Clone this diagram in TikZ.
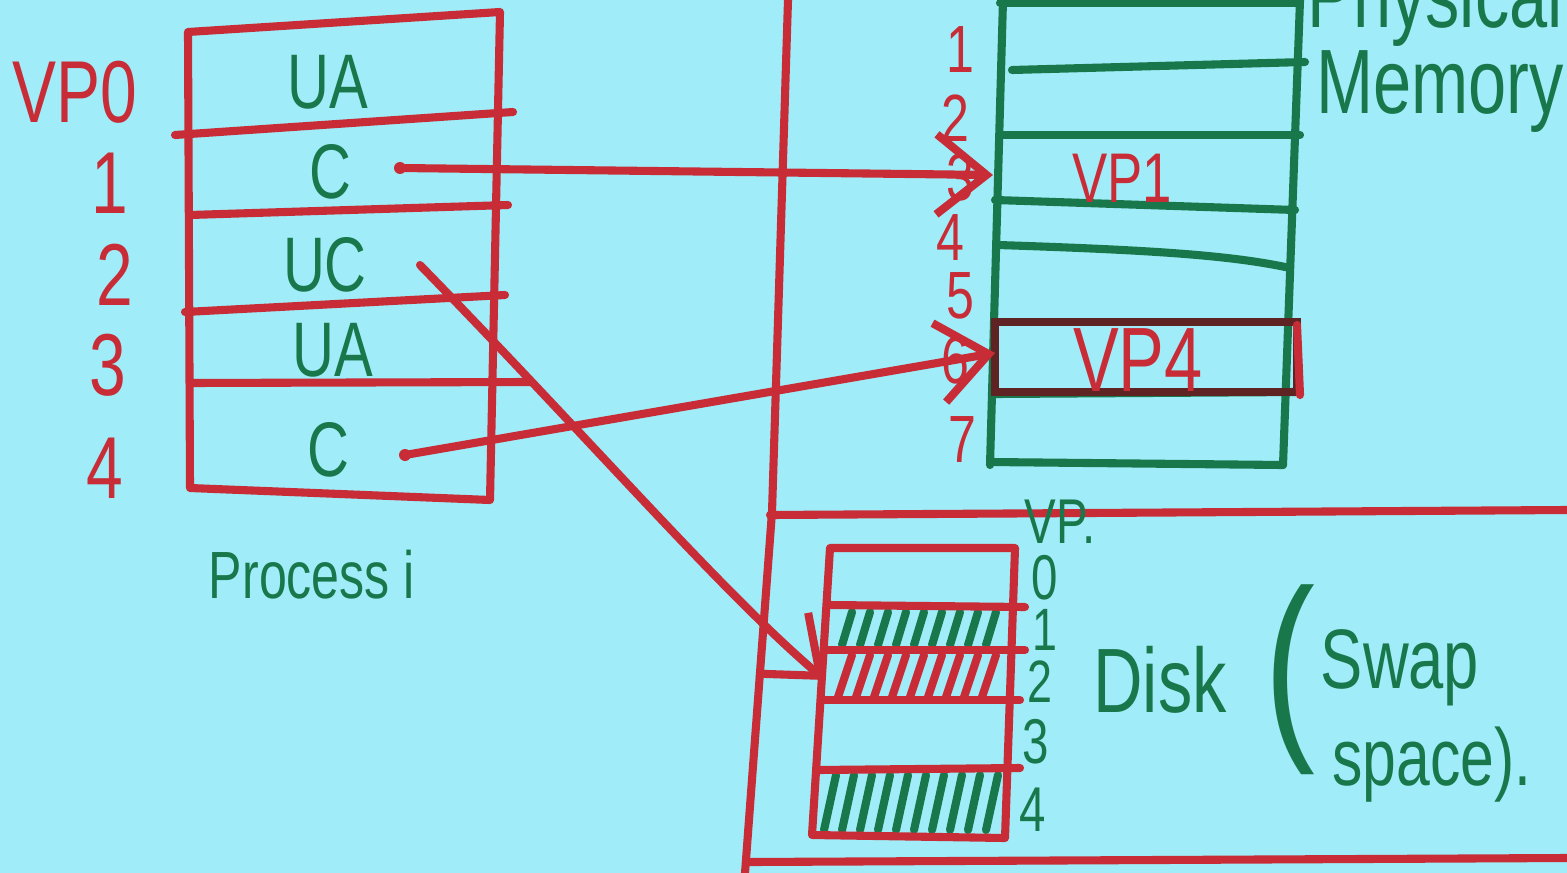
\documentclass[tikz,border=0pt]{standalone}
\usepackage{fontspec}
\setmainfont[FakeStretch=0.75]{Liberation Sans}
\usetikzlibrary{arrows.meta}
\definecolor{paper}{RGB}{160,236,248}
\definecolor{penred}{RGB}{200,45,55}
\definecolor{pengreen}{RGB}{25,120,75}
\definecolor{pendark}{RGB}{95,35,35}
\begin{document}
\begin{tikzpicture}[x=0.01cm, y=-0.01cm,
		every node/.style={inner sep=1pt},
		redpen/.style={draw=penred, line width=2.3pt, line cap=round, line join=round},
		greenpen/.style={draw=pengreen, line width=2.3pt, line cap=round, line join=round},
		redtxt/.style={text=penred, font=\fontsize{22}{24}\selectfont},
		greentxt/.style={text=pengreen, font=\fontsize{22}{24}\selectfont},
		framenum/.style={redtxt, font=\fontsize{19}{20}\selectfont},
		pageref/.style={redpen, -{Straight Barb[length=5mm, width=8mm, line width=2.3pt]}}]
	\fill[paper] (0,0) rectangle (1567,873);
	\clip (0,0) rectangle (1567,873);
	% process i
	\node[redtxt, font=\fontsize{25}{26}\selectfont] (vp0) at (75,92) {VP0};
	\node[redtxt, font=\fontsize{25}{26}\selectfont] (vp1) at (110,183) {1};
	\node[redtxt, font=\fontsize{25}{26}\selectfont] (vp2) at (115,275) {2};
	\node[redtxt, font=\fontsize{25}{26}\selectfont] (vp3) at (108,365) {3};
	\node[redtxt, font=\fontsize{25}{26}\selectfont] (vp4) at (105,468) {4};
	\node[greentxt] (p0) at (328,82) {UA};
	\node[greentxt] (p1) at (330,172) {C};
	\node[greentxt] (p2) at (325,265) {UC};
	\node[greentxt] (p3) at (333,350) {UA};
	\node[greentxt] (p4) at (328,450) {C};
	\node[greentxt, font=\fontsize{19}{20}\selectfont] (proc) at (312,575) {Process i};
	\draw[redpen] (188,32) -- (500,12) -- (490,500) -- (190,488) -- cycle;
	\draw[redpen] (175,135) -- (513,112);
	\draw[redpen] (190,215) -- (508,205);
	\draw[redpen] (185,312) -- (505,295);
	\draw[redpen] (190,383) -- (530,382);
	% borders
	\draw[redpen] (788,0) -- (772,512) -- (745,873);
	\draw[redpen] (770,515) -- (1567,510);
	\draw[redpen] (750,862) -- (1567,858);
	% physical memory
	\node[greentxt, font=\fontsize{26}{28}\selectfont] (phys) at (1435,4) {Physical};
	\node[greentxt, font=\fontsize{26}{28}\selectfont] (mem) at (1440,92) {Memory};
	\draw[greenpen] (1003,0) -- (990,465);
	\draw[greenpen] (1300,0) -- (1283,465);
	\draw[greenpen] (1000,3) -- (1300,3);
	\draw[greenpen] (1012,70) -- (1305,62);
	\draw[greenpen] (1000,135) -- (1300,135);
	\draw[greenpen] (995,200) -- (1295,210);
	\draw[greenpen] (998,245) .. controls (1150,250) and (1230,255) .. (1290,268);
	\draw[greenpen] (995,322) -- (1295,322);
	\draw[greenpen] (995,394) -- (1297,392);
	\draw[greenpen] (990,462) -- (1283,465);
	\draw[draw=pendark, line width=2.3pt] (995,322) rectangle (1297,392);
	\draw[redpen] (1297,325) -- (1300,395);
	\node[redtxt, font=\fontsize{20}{22}\selectfont] (m3) at (1122,178) {VP1};
	\node[redtxt, font=\fontsize{26}{28}\selectfont] (m6) at (1138,360) {VP4};
	\node[framenum] (f1) at (960,50) {1};
	\node[framenum] (f2) at (955,118) {2};
	\node[framenum] (f3) at (960,178) {3};
	\node[framenum] (f4) at (950,238) {4};
	\node[framenum] (f5) at (960,296) {5};
	\node[framenum] (f6) at (955,360) {6};
	\node[framenum] (f7) at (962,440) {7};
	% disk (swap space)
	\node[greentxt, font=\fontsize{18}{20}\selectfont] (dvp) at (1060,522) {VP.};
	\node[greentxt, font=\fontsize{18}{20}\selectfont] (d0) at (1045,578) {0};
	\node[greentxt, font=\fontsize{17}{20}\selectfont] (d1) at (1045,630) {1};
	\node[greentxt, font=\fontsize{17}{20}\selectfont] (d2) at (1040,682) {2};
	\node[greentxt, font=\fontsize{18}{20}\selectfont] (d3) at (1036,742) {3};
	\node[greentxt, font=\fontsize{18}{20}\selectfont] (d4) at (1033,810) {4};
	\foreach \i in {0,...,8}
		\draw[greenpen] ({842+18*\i},645) -- ({852+18*\i},612);
	\foreach \i in {0,...,8}
		\draw[redpen] ({838+18*\i},697) -- ({852+18*\i},655);
	\foreach \i in {0,...,9}
		\draw[greenpen] ({824+18*\i},830) -- ({836+18*\i},775);
	\draw[redpen] (830,548) -- (1015,548) -- (1005,838) -- (812,835) -- cycle;
	\draw[redpen] (828,605) -- (1025,607);
	\draw[redpen] (825,650) -- (1025,650);
	\draw[redpen] (822,700) -- (1020,700);
	\draw[redpen] (818,770) -- (1020,768);
	\node[greentxt, font=\fontsize{26}{28}\selectfont] (disk) at (1160,680) {Disk};
	\node[greentxt, font=\fontsize{58}{60}\selectfont] (paren) at (1290,680) {(};
	\node[greentxt, font=\fontsize{24}{26}\selectfont] (swap) at (1400,668) {Swap};
	\node[greentxt, font=\fontsize{23}{25}\selectfont] (space) at (1432,765) {space).};
	% page mappings
	\coordinate (s1) at (400,168);
	\coordinate (s2) at (420,265);
	\coordinate (s4) at (405,455);
	\coordinate (t3) at (993,175);
	\coordinate (t6) at (995,353);
	\coordinate (d2in) at (825,680);
	\fill[penred] (s1) circle (6);
	\fill[penred] (s4) circle (6);
	\draw[pageref] (s1) -- (t3);
	\draw[pageref] (s2) .. controls (600,450) and (720,590) .. (d2in);
	\draw[pageref] (s4) -- (t6);
\end{tikzpicture}
\end{document}
